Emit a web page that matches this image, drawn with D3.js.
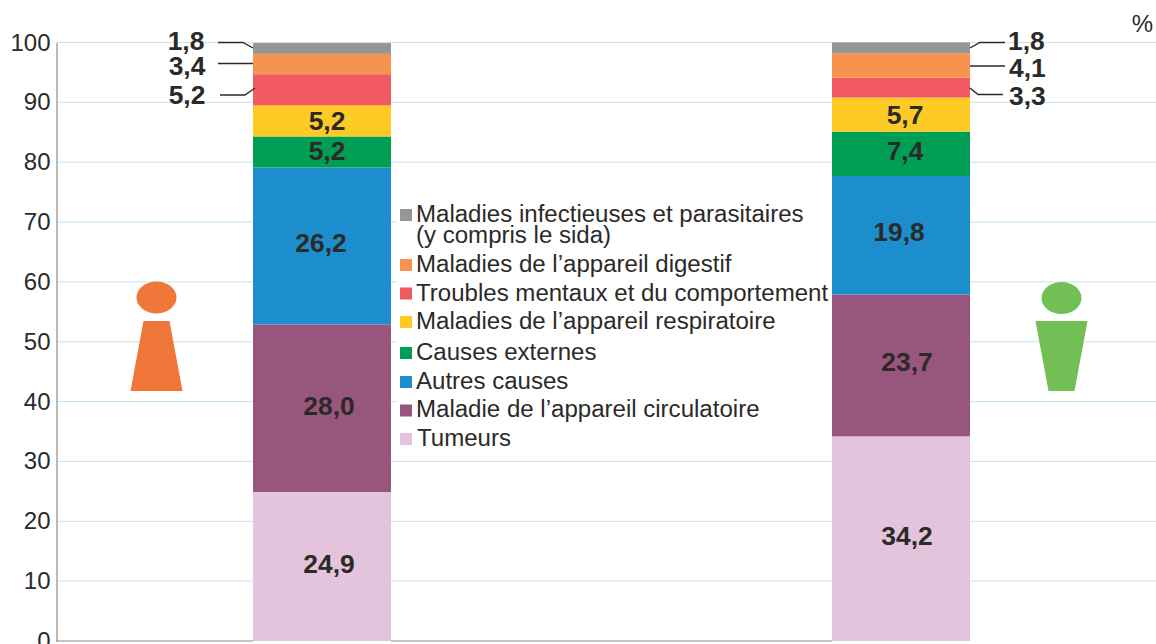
<!DOCTYPE html>
<html><head><meta charset="utf-8">
<script src="https://cdn.jsdelivr.net/npm/d3@7"></script>
<style>html,body{margin:0;padding:0;background:#fff}svg{display:block}text{font-family:"Liberation Sans",Arial,sans-serif;fill:#2b2a29}</style>
</head><body><svg id="c" width="1156" height="644"></svg>
<script>
const sexes = ["Hommes", "Femmes"];
const causes = ["Tumeurs","Maladie de l’appareil circulatoire","Autres causes","Causes externes","Maladies de l’appareil respiratoire","Troubles mentaux et du comportement","Maladies de l’appareil digestif","Maladies infectieuses et parasitaires"];
const hommes = [24.9, 28.0, 26.2, 5.2, 5.2, 5.2, 3.4, 1.8];
const femmes = [34.2, 23.7, 19.8, 7.4, 5.7, 3.3, 4.1, 1.8];
const yTicks = [0,10,20,30,40,50,60,70,80,90,100];
const colors = ["#e4c3dc","#98567d","#1c8ecd","#009e54","#fecb26","#f15a60","#f6944f","#969696"];

// layout, top to bottom for the legend
const legendRows = [
  {i:7, sq:215, lines:[[416,222],[416,243]], extra:"(y compris le sida)"},
  {i:6, sq:265, lines:[[416,272]]},
  {i:5, sq:293.5, lines:[[416,300.5]]},
  {i:4, sq:322, lines:[[416,329]]},
  {i:3, sq:353, lines:[[416,360]]},
  {i:2, sq:382, lines:[[416,388.5]]},
  {i:1, sq:410.5, lines:[[416,417]]},
  {i:0, sq:439, lines:[[417,446]]}
];
// per-label nudges of inside labels [dx,dy] from segment centre
const nudges = [
  [[7,-2],[7,-2],[-1,-3],[5,-1],[5,0]],
  [[6,-3],[6,-3],[-2,-3],[4,-3],[4,0]]
];

const svg = d3.select("#c");
const y = d3.scaleLinear().domain([0,100]).range([641,42.5]);
const x = d3.scaleBand().domain(sexes).range([32.5,1190.5]).paddingInner(0.7617).paddingOuter(0.38085);

svg.append("g").selectAll("line").data(yTicks.filter(d=>d>0)).join("line")
  .attr("x1",57).attr("x2",1156).attr("y1",d=>y(d)).attr("y2",d=>y(d))
  .attr("stroke","#c2e4f0").attr("stroke-width",1);

// Legend backdrop
svg.append("rect").attr("x",397).attr("y",200).attr("width",434).attr("height",252).attr("fill","#fff");

// Axis
const axis = d3.axisLeft(y).tickValues(yTicks).tickSize(0).tickPadding(0);
const ax = svg.append("g").attr("transform","translate(56.5,0)").call(axis);
ax.select(".domain").attr("stroke","#8c8c8c").attr("stroke-width",1.2);
ax.selectAll("text").attr("font-size",24).attr("x",-6).attr("dy",null).attr("y",7.5)
  .attr("text-anchor","end").style("fill","#2b2a29");
svg.append("line").attr("x1",56).attr("x2",253).attr("y1",641).attr("y2",641).attr("stroke","#8c8c8c").attr("stroke-width",1.2);
svg.append("line").attr("x1",391).attr("x2",832).attr("y1",641).attr("y2",641).attr("stroke","#8c8c8c").attr("stroke-width",1.2);

// Bars
const stack = d3.stack().keys(d3.range(causes.length)).value((row,k)=>row[k]);
const series = stack([hommes,femmes]);
series.forEach((s,k)=>{
  svg.append("g").selectAll("rect").data(s).join("rect")
    .attr("x",(d,i)=>x(sexes[i])).attr("width",x.bandwidth())
    .attr("y",d=>y(d[1])).attr("height",d=>y(d[0])-y(d[1]))
    .attr("fill",colors[k]);
});

// Inside labels
const fmt = v => v.toFixed(1).replace(".",",");
[hommes,femmes].forEach((vals,si)=>{
  vals.slice(0,5).forEach((v,k)=>{
    const seg = series[k][si];
    svg.append("text").attr("x",x(sexes[si])+x.bandwidth()/2+nudges[si][k][0])
      .attr("y",(y(seg[0])+y(seg[1]))/2+nudges[si][k][1]+9)
      .attr("text-anchor","middle").attr("font-size",26.4).attr("font-weight","bold").text(fmt(v));
  });
});

// Outside labels with leaders
const line = d3.line();
const leaders = [
  {v:hommes[7],anchor:"middle",tx:186,ty:50,pts:[[218,42.5],[243,42.5],[253,48]]},
  {v:hommes[6],anchor:"middle",tx:187,ty:75,pts:[[218,63.5],[253,63.5]]},
  {v:hommes[5],anchor:"middle",tx:187,ty:104,pts:[[220,95],[245,95],[255,88]]},
  {v:femmes[7],anchor:"start",tx:1008,ty:50,pts:[[970,48],[980,42.5],[1005,42.5]]},
  {v:femmes[6],anchor:"start",tx:1009,ty:77,pts:[[970,66],[1005,66]]},
  {v:femmes[5],anchor:"start",tx:1009,ty:105,pts:[[970,88],[978,94.5],[1003,94.5]]}
];
leaders.forEach(l=>{
  svg.append("path").attr("d",line(l.pts)).attr("fill","none").attr("stroke","#2b2a29").attr("stroke-width",1.4);
  svg.append("text").attr("x",l.tx).attr("y",l.ty).attr("text-anchor",l.anchor)
    .attr("font-size",26.4).attr("font-weight","bold").text(fmt(l.v));
});

// Legend
legendRows.forEach(r=>{
  svg.append("rect").attr("x",400).attr("y",r.sq-6).attr("width",12).attr("height",12).attr("fill",colors[r.i]);
  svg.append("text").attr("x",r.lines[0][0]).attr("y",r.lines[0][1]).attr("font-size",24.05).text(causes[r.i]);
  if(r.extra) svg.append("text").attr("x",r.lines[1][0]).attr("y",r.lines[1][1]).attr("font-size",24.05).text(r.extra);
});

// Unit
svg.append("text").attr("x",1153).attr("y",32).attr("text-anchor","end").attr("font-size",24).text("%");

// Pictograms
const icon = (cx,cy,fill,topHalf,botHalf)=>{
  svg.append("ellipse").attr("cx",cx).attr("cy",cy).attr("rx",20).attr("ry",16).attr("fill",fill);
  svg.append("path").attr("fill",fill).attr("d",line([[cx-topHalf,321],[cx+topHalf,321],[cx+botHalf,391],[cx-botHalf,391]])+"Z");
};
icon(156.5,297.5,"#ef773a",13,26);
icon(1061.5,298,"#72bf55",26,13);
</script></body></html>
